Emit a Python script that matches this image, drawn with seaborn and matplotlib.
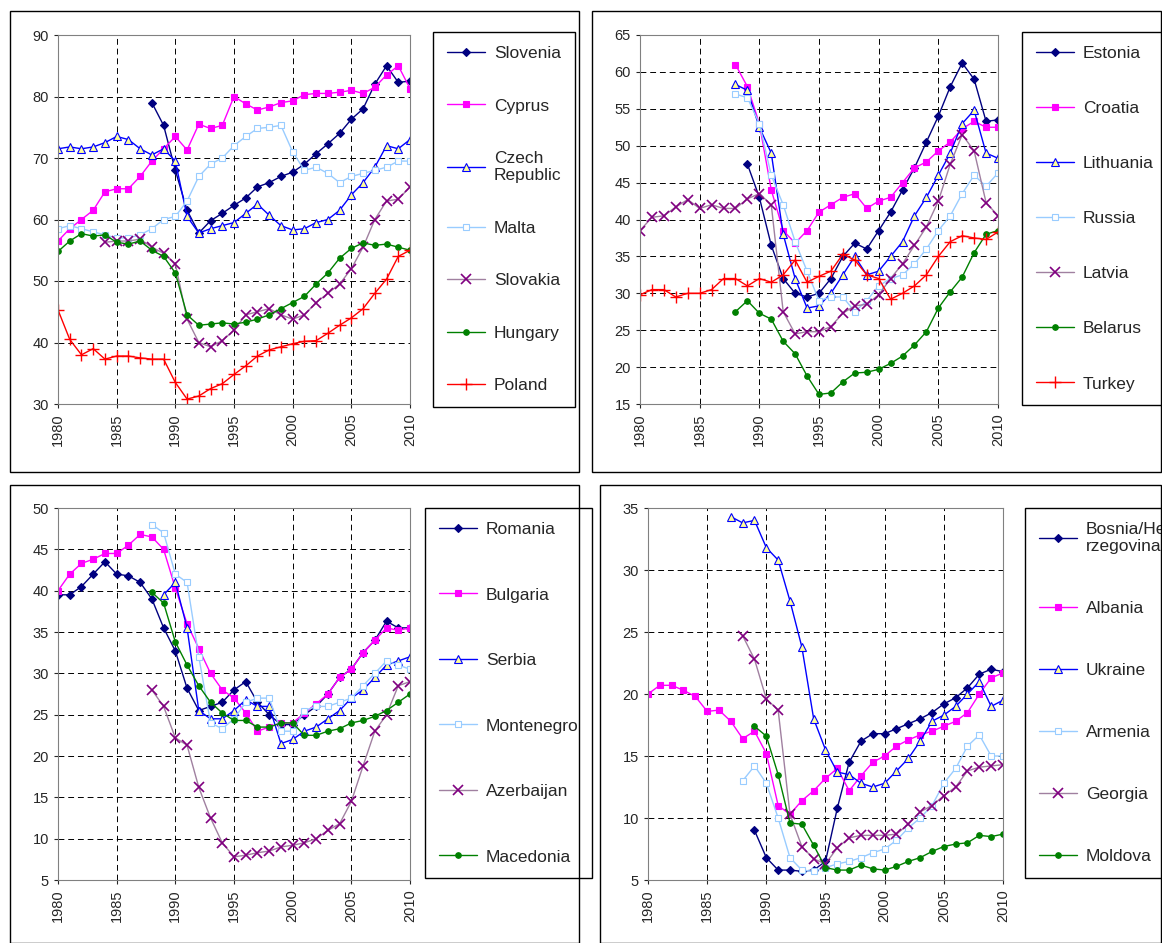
import matplotlib
matplotlib.use("Agg")
import matplotlib.pyplot as plt
import seaborn as sns
from matplotlib.patches import Rectangle

# ---- data: (first year, values) ----
slovenia = (1988, [79, 75.3, 68, 61.5, 57.8, 59.8, 61, 62.3, 63.5, 65.3, 66, 67, 67.7, 69, 70.7, 72.3, 74, 76.3, 78, 82, 85, 82.3, 82.5])
cyprus = (1980, [56.5, 58.5, 60, 61.5, 64.5, 65, 65, 67, 69.5, 71.5, 73.5, 71.3, 75.5, 74.8, 75.3, 80, 78.8, 77.8, 78.3, 79, 79.3, 80.3, 80.5, 80.5, 80.7, 81, 80.5, 81.5, 83.5, 85, 81.3])
czech = (1980, [71.5, 71.8, 71.5, 71.8, 72.5, 73.5, 73, 71.5, 70.5, 71.5, 69.5, 60.5, 57.8, 58.5, 59, 59.5, 61, 62.5, 60.7, 59, 58.3, 58.5, 59.5, 60, 61.5, 64, 66, 68.5, 72, 71.5, 73])
malta = (1980, [58.5, 59, 58.5, 58, 57.5, 57, 57, 57.5, 58.5, 60, 60.5, 63, 67, 69, 70, 72, 73.5, 74.8, 75, 75.3, 71, 68, 68.5, 67.5, 66, 67, 67.5, 68, 68.5, 69.5, 69.5])
slovakia = (1984, [56.3, 56.5, 56.5, 56.8, 55.5, 54.5, 52.8, 43.8, 40, 39.3, 40.3, 42, 44.5, 45, 45.5, 44.5, 43.8, 44.5, 46.5, 48, 49.5, 52, 55.5, 60, 63, 63.3, 65.3])
hungary = (1980, [54.8, 56.5, 57.7, 57.3, 57.5, 56.3, 56, 56.5, 55, 54, 51.3, 44.5, 42.8, 43, 43.2, 43, 43.3, 43.8, 44.5, 45.5, 46.5, 47.5, 49.5, 51.3, 53.7, 55.3, 56.2, 55.8, 56, 55.5, 55])
poland = (1980, [45.3, 40.5, 38, 39, 37.3, 37.8, 37.8, 37.5, 37.3, 37.3, 33.5, 30.8, 31.3, 32.5, 33.3, 34.8, 36.2, 37.8, 38.8, 39.3, 39.8, 40.2, 40.3, 41.5, 42.8, 44, 45.5, 48, 50.3, 54, 55])

estonia = (1989, [47.5, 43, 36.5, 32, 30, 29.5, 30, 32, 35, 36.8, 36, 38.5, 41, 44, 47, 50.5, 54, 58, 61.2, 59, 53.3, 53.5])
croatia = (1988, [61, 58, 53, 44, 38.5, 36.8, 38.5, 41, 42, 43, 43.5, 41.5, 42.5, 43, 45, 47, 47.8, 49.3, 50.5, 52.3, 53.3, 52.5, 52.5])
lithuania = (1988, [58.3, 57.5, 52.5, 49, 38, 32, 28, 28.3, 30, 32.5, 35, 32.5, 33, 35, 37, 40.5, 43, 46, 49, 53, 54.8, 49, 48.3])
russia = (1988, [57, 56.5, 53, 46, 42, 37, 33, 29, 29.5, 29.5, 27.5, 29, 31, 32, 32.5, 34, 36, 38.5, 40.5, 43.5, 46, 44.5, 46.3])
latvia = (1980, [38.5, 40.3, 40.5, 41.7, 42.7, 41.5, 42, 41.5, 41.5, 42.8, 43.5, 42, 27.5, 24.5, 24.8, 24.8, 25.5, 27.3, 28.3, 28.5, 29.8, 32, 34, 36.5, 39, 42.5, 47.5, 51.5, 49.3, 42.3, 40.5])
belarus = (1988, [27.5, 29, 27.3, 26.5, 23.5, 21.8, 18.8, 16.3, 16.5, 18, 19.2, 19.3, 19.7, 20.5, 21.5, 23, 24.8, 28, 30.2, 32.2, 35.5, 38, 38.5])
turkey = (1980, [29.8, 30.5, 30.5, 29.5, 30, 30, 30.5, 32, 32, 31, 32, 31.5, 32.5, 34.5, 31.5, 32.3, 33, 35.3, 34.5, 32.5, 32, 29.2, 30, 31, 32.5, 35, 37, 37.8, 37.5, 37.3, 38.3])

romania = (1980, [39.5, 39.5, 40.5, 42, 43.5, 42, 41.8, 41, 39, 35.5, 32.7, 28.2, 25.5, 26, 26.5, 28, 29, 26.5, 25, 23.8, 23.8, 25, 26, 27.5, 29.5, 30.5, 32.5, 34, 36.3, 35.5, 35.5])
bulgaria = (1980, [40, 42, 43.3, 43.8, 44.5, 44.5, 45.5, 46.8, 46.5, 45, 40.3, 36, 33, 30, 28, 27, 25.2, 23, 23.5, 24, 24, 25.2, 26.3, 27.5, 29.5, 30.5, 32.5, 34, 35.5, 35.2, 35.5])
serbia = (1989, [39.5, 41, 35.5, 25.5, 24.5, 24.5, 25.5, 26.8, 26, 26, 21.5, 22, 23, 23.5, 24.5, 25.5, 27, 28, 29.5, 31, 31.5, 32])
montenegro = (1988, [48, 47, 42, 41, 32, 24, 23.3, 24.5, 26.5, 27, 27, 23, 23, 25.5, 26, 26, 26.5, 27, 28.5, 30, 31.5, 31, 30.5])
azerbaijan = (1988, [28, 26, 22.2, 21.3, 16.2, 12.5, 9.5, 7.8, 8, 8.3, 8.5, 9, 9.2, 9.5, 10, 11, 11.8, 14.5, 18.8, 23, 25, 28.5, 29])
macedonia = (1988, [39.8, 38.5, 33.8, 31, 28.5, 26.5, 25.2, 24.3, 24.3, 23.5, 23.5, 24, 24, 22.5, 22.5, 23, 23.3, 24, 24.3, 24.8, 25.5, 26.5, 27.5])

bosnia = (1989, [9, 6.8, 5.8, 5.8, 5.7, 5.8, 6.5, 10.8, 14.5, 16.2, 16.8, 16.8, 17.2, 17.6, 18, 18.5, 19.2, 19.7, 20.5, 21.6, 22, 21.8])
albania = (1980, [20, 20.7, 20.7, 20.3, 19.8, 18.6, 18.7, 17.8, 16.4, 17, 15.2, 11, 10.3, 11.4, 12.2, 13.2, 14, 12.2, 13.4, 14.5, 15, 15.8, 16.3, 16.7, 17, 17.4, 17.8, 18.5, 20, 21.3, 21.7])
ukraine = (1987, [34.3, 33.8, 34, 31.8, 30.8, 27.5, 23.8, 18, 15.5, 13.7, 13.5, 12.8, 12.5, 12.8, 13.8, 14.8, 16.2, 17.8, 18.3, 19, 20, 21, 19, 19.5])
armenia = (1988, [13, 14.2, 12.8, 10, 6.8, 5.8, 5.7, 6, 6.3, 6.5, 6.8, 7.2, 7.5, 8.2, 9.2, 10, 11, 12.8, 14, 15.8, 16.7, 15, 15])
georgia = (1988, [24.7, 22.8, 19.6, 18.7, 10.3, 7.7, 6.7, 6.3, 7.6, 8.4, 8.6, 8.6, 8.6, 8.7, 9.5, 10.5, 11, 11.8, 12.5, 13.8, 14.1, 14.2, 14.3])
moldova = (1989, [17.4, 16.6, 13.5, 9.6, 9.5, 7.8, 6, 5.8, 5.8, 6.2, 5.9, 5.8, 6.1, 6.5, 6.8, 7.3, 7.7, 7.9, 8, 8.6, 8.5, 8.7])

# marker styles by slot in each panel
styles = [
    dict(color="#000080", marker="D", ms=4, mfc="#000080", mec="#000080"),
    dict(color="#FF00FF", marker="s", ms=5, mfc="#FF00FF", mec="#FF00FF"),
    dict(color="#0000FF", marker="^", ms=6, mfc="#FFFF99", mec="#0000FF"),
    dict(color="#99CCFF", marker="s", ms=5, mfc="white", mec="#99CCFF"),
    dict(color="#A080A0", marker="x", ms=7, mfc="#800080", mec="#800080", mew=1.2),
    dict(color="#008000", marker="o", ms=4, mfc="#008000", mec="#008000"),
    dict(color="#FF0000", marker="+", ms=8, mfc="#FF0000", mec="#FF0000", mew=1),
]

panels = [
    dict(frame=(10, 10, 580, 472), ax=(58, 35, 410, 404), leg=(433, 32), ylim=(30, 90), ystep=10, spacing=2.15,
         series=[("Slovenia", slovenia), ("Cyprus", cyprus), ("Czech\nRepublic", czech), ("Malta", malta),
                 ("Slovakia", slovakia), ("Hungary", hungary), ("Poland", poland)]),
    dict(frame=(592, 10, 1162, 472), ax=(640, 35, 998, 404), leg=(1022, 32), ylim=(15, 65), ystep=5, spacing=2.3,
         series=[("Estonia", estonia), ("Croatia", croatia), ("Lithuania", lithuania), ("Russia", russia),
                 ("Latvia", latvia), ("Belarus", belarus), ("Turkey", turkey)]),
    dict(frame=(10, 484, 580, 943), ax=(58, 508, 410, 880), leg=(425, 508), ylim=(5, 50), ystep=5, spacing=2.9,
         series=[("Romania", romania), ("Bulgaria", bulgaria), ("Serbia", serbia), ("Montenegro", montenegro),
                 ("Azerbaijan", azerbaijan), ("Macedonia", macedonia)]),
    dict(frame=(600, 484, 1162, 943), ax=(648, 508, 1003, 880), leg=(1025, 508), ylim=(5, 35), ystep=5, spacing=2.7,
         series=[("Bosnia/He\nrzegovina", bosnia), ("Albania", albania), ("Ukraine", ukraine), ("Armenia", armenia),
                 ("Georgia", georgia), ("Moldova", moldova)]),
]

sns.set_style("white")
plt.rcParams["font.family"] = ["Liberation Sans", "DejaVu Sans"]

W, H = 1162, 943
fig = plt.figure(figsize=(W / 100, H / 100), dpi=100)

for p in panels:
    x0, y0, x1, y1 = p["frame"]
    fig.patches.append(Rectangle((x0 / W, 1 - y1 / H), (x1 - x0 - 1) / W, (y1 - y0 - 1) / H,
                                 transform=fig.transFigure, fill=False, ec="black", lw=1))
    a0, b0, a1, b1 = p["ax"]
    ax = fig.add_axes([a0 / W, 1 - b1 / H, (a1 - a0) / W, (b1 - b0) / H])
    for i, (name, (start, vals)) in enumerate(p["series"]):
        st = styles[i]
        years = list(range(start, start + len(vals)))
        sns.lineplot(x=years, y=vals, ax=ax, color=st["color"], lw=1, marker=st["marker"],
                     markersize=st["ms"], markerfacecolor=st["mfc"], markeredgecolor=st["mec"],
                     markeredgewidth=st.get("mew", 0.8), label=name)
    ax.set_xlim(1980, 2010)
    ax.set_ylim(*p["ylim"])
    ax.set_xticks(range(1980, 2011, 5))
    ax.set_xticklabels([str(y) for y in range(1980, 2011, 5)], rotation=90)
    ax.set_yticks(range(p["ylim"][0], p["ylim"][1] + 1, p["ystep"]))
    ax.grid(True, color="black", ls=(0, (6, 4)), lw=0.7)
    for s in ax.spines.values():
        s.set_color("#808080")
    ax.tick_params(labelsize=10.5, length=3, direction="out", bottom=True, left=True)
    lx, ly = p["leg"]
    leg = ax.legend(loc="upper left", bbox_to_anchor=(lx / W, 1 - ly / H), bbox_transform=fig.transFigure,
                    fontsize=12.5, labelspacing=p["spacing"], handlelength=2.2, handletextpad=0.5,
                    borderpad=0.8, borderaxespad=0, fancybox=False, edgecolor="black", framealpha=1)
    leg.get_frame().set_linewidth(1)

fig.savefig("out.png", dpi=100)
